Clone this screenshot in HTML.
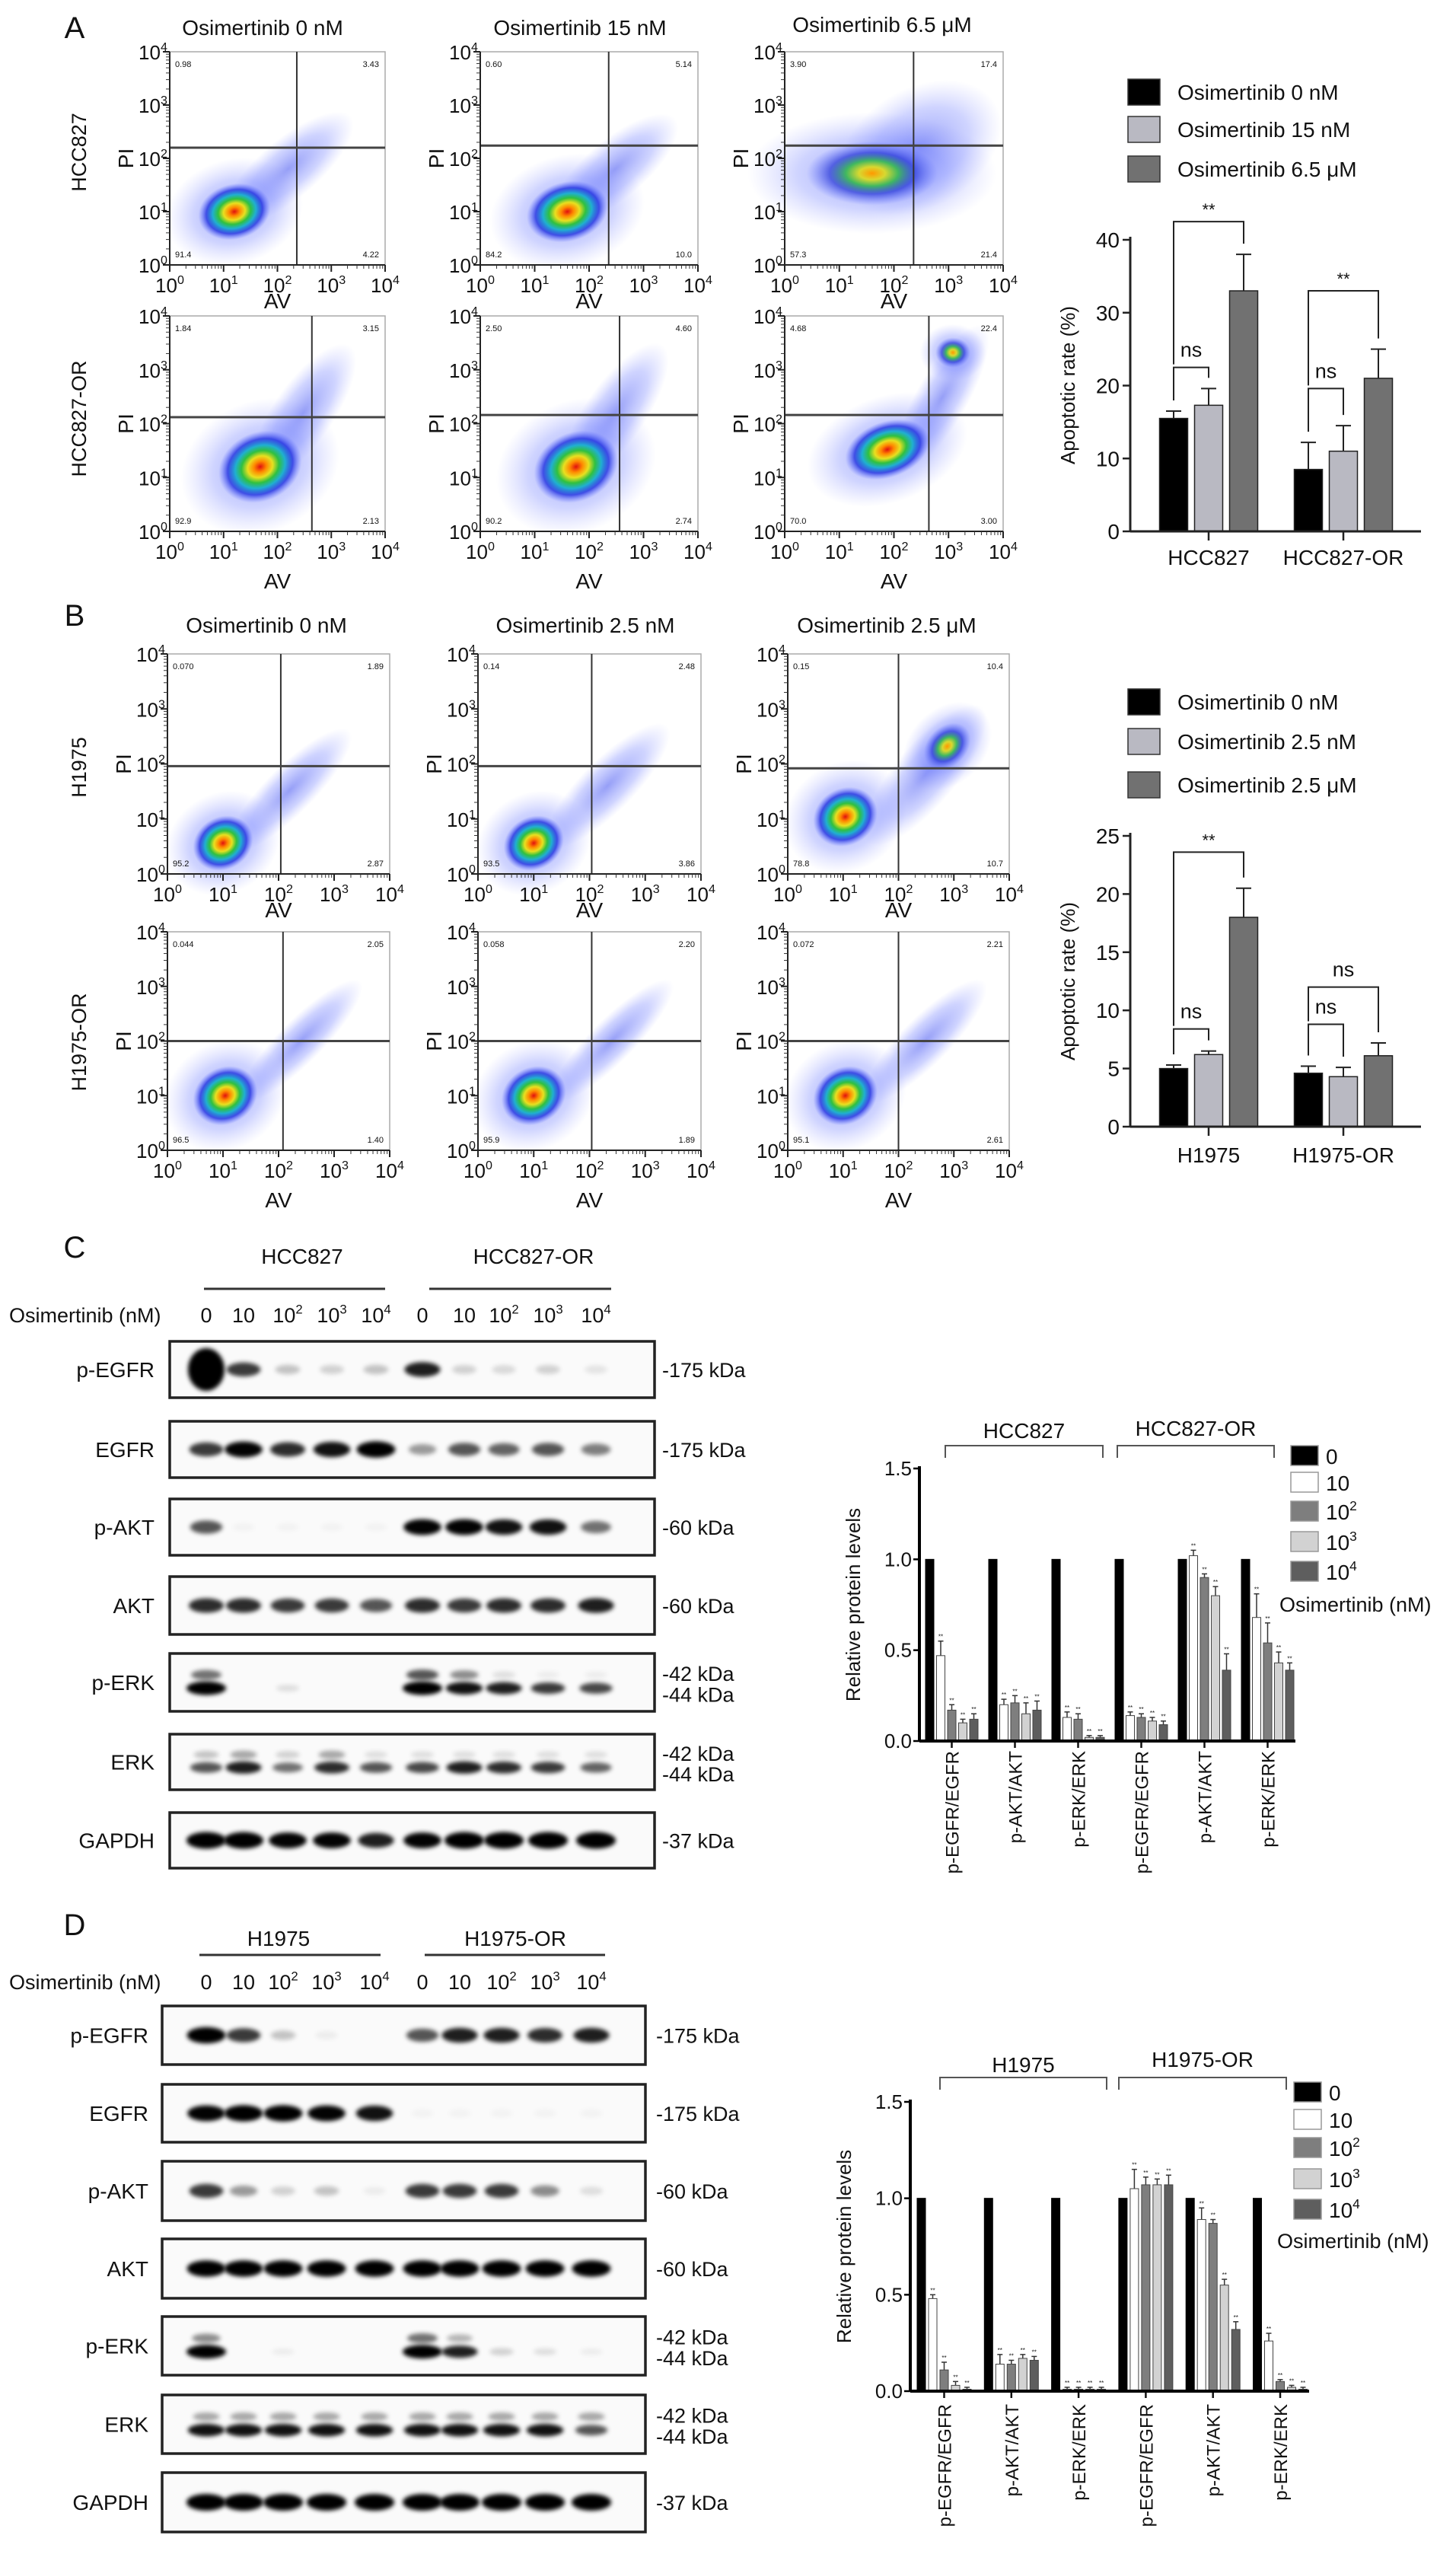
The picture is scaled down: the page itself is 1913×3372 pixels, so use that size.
<!DOCTYPE html>
<html><head><meta charset="utf-8">
<style>
html,body{margin:0;padding:0;background:#fff;}
svg{display:block;}
text{font-family:"Liberation Sans Narrow","Liberation Sans",sans-serif;fill:#111;}
.reg{font-family:"Liberation Sans",sans-serif;}
</style></head>
<body>
<svg id="fig" xmlns="http://www.w3.org/2000/svg" width="1913" height="3372" viewBox="0 0 1913 3372">
<defs>
<radialGradient id="hot"><stop offset="0" stop-color="#e01010"/><stop offset="0.15" stop-color="#ff8800"/><stop offset="0.3" stop-color="#e8e020"/><stop offset="0.45" stop-color="#30c040"/><stop offset="0.6" stop-color="#20b0d0"/><stop offset="0.78" stop-color="#2030e0" stop-opacity="0.8"/><stop offset="1" stop-color="#6070ff" stop-opacity="0"/></radialGradient>
<radialGradient id="warm"><stop offset="0" stop-color="#ff9900"/><stop offset="0.2" stop-color="#d8d830"/><stop offset="0.4" stop-color="#40b860"/><stop offset="0.65" stop-color="#2838d8" stop-opacity="0.7"/><stop offset="1" stop-color="#6070ff" stop-opacity="0"/></radialGradient>
<radialGradient id="halo"><stop offset="0" stop-color="#4050f0" stop-opacity="0.55"/><stop offset="0.6" stop-color="#6070ff" stop-opacity="0.3"/><stop offset="1" stop-color="#8890ff" stop-opacity="0"/></radialGradient>
<filter id="blur" x="-50%" y="-50%" width="200%" height="200%"><feGaussianBlur stdDeviation="3"/></filter>
</defs>
</svg>
<script>
// ---------------- DATA ----------------
const aCats = ["HCC827","HCC827-OR"];
const aMeans = [[15.5,17.3,33.0],[8.5,11.0,21.0]];
const aErrs = [[1.0,2.3,5.0],[3.7,3.5,4.0]];
const aLegend = ["Osimertinib 0 nM","Osimertinib 15 nM","Osimertinib 6.5 μM"];
const aTicks = [0,10,20,30,40];
const aBrackets = [[42.5,22.5],[33.0,19.6]];
const aSig = [["**","ns"],["**","ns"]];
const bCats = ["H1975","H1975-OR"];
const bMeans = [[5.0,6.2,18.0],[4.6,4.3,6.1]];
const bErrs = [[0.3,0.3,2.5],[0.6,0.8,1.1]];
const bLegend = ["Osimertinib 0 nM","Osimertinib 2.5 nM","Osimertinib 2.5 μM"];
const bTicks = [0,5,10,15,20,25];
const bBrackets = [[23.6,8.4],[12.0,8.8]];
const bSig = [["**","ns"],["ns","ns"]];
const wbCats = ["p-EGFR/EGFR","p-AKT/AKT","p-ERK/ERK","p-EGFR/EGFR","p-AKT/AKT","p-ERK/ERK"];
const cVals = [[1,0.47,0.17,0.10,0.12],[1,0.20,0.21,0.15,0.17],[1,0.13,0.12,0.02,0.02],[1,0.14,0.13,0.11,0.09],[1,1.02,0.90,0.80,0.39],[1,0.68,0.54,0.43,0.39]];
const cErr = [[0,0.08,0.03,0.02,0.03],[0,0.03,0.04,0.06,0.05],[0,0.03,0.03,0.01,0.01],[0,0.02,0.02,0.02,0.02],[0,0.03,0.02,0.05,0.09],[0,0.13,0.11,0.06,0.04]];
const dVals = [[1,0.48,0.11,0.03,0.01],[1,0.14,0.14,0.17,0.16],[1,0.01,0.01,0.01,0.01],[1,1.05,1.07,1.07,1.07],[1,0.89,0.87,0.55,0.32],[1,0.26,0.05,0.02,0.01]];
const dErr = [[0,0.02,0.04,0.02,0.01],[0,0.05,0.02,0.02,0.02],[0,0.01,0.01,0.01,0.01],[0,0.1,0.04,0.03,0.05],[0,0.06,0.02,0.03,0.04],[0,0.04,0.01,0.01,0.01]];
const wbTicks = [0,0.5,1.0,1.5];
const doseLabels = [["0",""],["10",""],["10","2"],["10","3"],["10","4"]];

// ---------------- HELPERS ----------------
const svg = document.getElementById('fig');
const NS = 'http://www.w3.org/2000/svg';
function E(tag, at, parent){const e=document.createElementNS(NS,tag);for(const k in at)e.setAttribute(k,at[k]);(parent||svg).appendChild(e);return e;}
function T(x,y,s,size,anchor,extra,parent){const e=E('text',Object.assign({x:x,y:y,'font-size':size,'text-anchor':anchor||'start'},extra||{}),parent);e.textContent=s;return e;}
function sup(x,y,base,ex,size,anchor,parent){const e=E('text',{x:x,y:y,'font-size':size,'text-anchor':anchor||'middle'},parent);const a=E('tspan',{},e);a.textContent=base;if(ex){const b=E('tspan',{dy:-size*0.42,'font-size':size*0.62},e);b.textContent=ex;}return e;}
function G(){return E('g',{});}

// ---------------- PANEL LETTERS ----------------
[["A",98,50],["B",98,822],["C",98,1652],["D",98,2542]].forEach(p=>{
  const t=T(p[1],p[2],p[0],40,'middle',{class:'reg'});
  
  
});

// ---------------- FLOW CYTOMETRY PLOTS ----------------
const flow = [
 [223,68,283,280,0.59,0.45,[[0.30,0.75,0.17,0.13,-15,'hot']],[[0.55,0.55,0.38,0.14,-40]],["0.98","3.43","91.4","4.22"],1],
 [631,68,286,280,0.59,0.44,[[0.40,0.75,0.19,0.14,-15,'hot']],[[0.62,0.55,0.36,0.14,-40]],["0.60","5.14","84.2","10.0"],1],
 [1031,68,287,280,0.59,0.44,[[0.40,0.57,0.30,0.15,0,'warm']],[[0.62,0.45,0.40,0.28,-30]],["3.90","17.4","57.3","21.4"],1],
 [223,415,283,283,0.66,0.47,[[0.42,0.70,0.20,0.16,-25,'hot']],[[0.62,0.45,0.38,0.14,-55]],["1.84","3.15","92.9","2.13"],2],
 [631,415,286,283,0.64,0.46,[[0.44,0.70,0.20,0.16,-25,'hot']],[[0.62,0.45,0.38,0.14,-55]],["2.50","4.60","90.2","2.74"],2],
 [1031,415,287,283,0.66,0.46,[[0.47,0.62,0.20,0.13,-20,'hot'],[0.77,0.17,0.08,0.07,0,'warm']],[[0.72,0.38,0.38,0.12,-60]],["4.68","22.4","70.0","3.00"],2],
 [220,859,292,289,0.51,0.51,[[0.25,0.86,0.14,0.12,-30,'hot']],[[0.55,0.62,0.38,0.11,-45]],["0.070","1.89","95.2","2.87"],1],
 [628,859,293,289,0.51,0.51,[[0.25,0.86,0.14,0.12,-30,'hot']],[[0.58,0.6,0.38,0.12,-45]],["0.14","2.48","93.5","3.86"],1],
 [1035,859,291,289,0.50,0.52,[[0.26,0.74,0.15,0.13,-30,'hot'],[0.72,0.42,0.12,0.09,-45,'warm']],[[0.62,0.55,0.40,0.14,-50]],["0.15","10.4","78.8","10.7"],1],
 [220,1224,292,287,0.52,0.50,[[0.26,0.75,0.15,0.13,-30,'hot']],[[0.6,0.5,0.38,0.1,-45]],["0.044","2.05","96.5","1.40"],2],
 [628,1224,293,287,0.51,0.50,[[0.25,0.75,0.15,0.13,-30,'hot']],[[0.6,0.5,0.38,0.1,-45]],["0.058","2.20","95.9","1.89"],2],
 [1035,1224,291,287,0.50,0.50,[[0.26,0.75,0.15,0.13,-30,'hot']],[[0.62,0.5,0.38,0.11,-45]],["0.072","2.21","95.1","2.61"],2]
];
flow.forEach((f,i)=>{
  const [x,y,w,h,vf,hf,blobs,tails,nums,row]=f;
  const g=G();
  
  
  E('rect',{x:x,y:y,width:w,height:h,fill:'#fff',stroke:'#aaa','stroke-width':1.5},g);
  tails.forEach(t=>{
    const el=E('ellipse',{cx:x+t[0]*w,cy:y+t[1]*h,rx:t[2]*w,ry:t[3]*h,fill:'url(#halo)',transform:`rotate(${t[4]} ${x+t[0]*w} ${y+t[1]*h})`},g);
    
    
  });
  blobs.forEach(b=>{
    const cx=x+b[0]*w,cy=y+b[1]*h;
    const hl=E('ellipse',{cx:cx,cy:cy,rx:b[2]*w*1.9,ry:b[3]*h*1.9,fill:'url(#halo)',transform:`rotate(${b[4]} ${cx} ${cy})`},g);
    
    
    const el=E('ellipse',{cx:cx,cy:cy,rx:b[2]*w,ry:b[3]*h,fill:`url(#${b[5]})`,transform:`rotate(${b[4]} ${cx} ${cy})`},g);
    
    
  });
  E('line',{x1:x+vf*w,y1:y,x2:x+vf*w,y2:y+h,stroke:'#333','stroke-width':2},g);
  E('line',{x1:x,y1:y+hf*h,x2:x+w,y2:y+hf*h,stroke:'#444','stroke-width':3},g);
  E('line',{x1:x,y1:y,x2:x,y2:y+h,stroke:'#222','stroke-width':2},g);
  E('line',{x1:x,y1:y+h,x2:x+w,y2:y+h,stroke:'#222','stroke-width':2},g);
  for(let d=0;d<=4;d++){
    const tx=x+d*w/4, ty=y+h-d*h/4;
    E('line',{x1:tx,y1:y+h,x2:tx,y2:y+h+9,stroke:'#222','stroke-width':2},g);
    E('line',{x1:x-9,y1:ty,x2:x,y2:ty,stroke:'#222','stroke-width':2},g);
    if(d<4){for(let m=2;m<10;m++){const o=Math.log10(m);
      E('line',{x1:tx+o*w/4,y1:y+h,x2:tx+o*w/4,y2:y+h+5,stroke:'#333','stroke-width':1},g);
      E('line',{x1:x-5,y1:ty-o*h/4,x2:x,y2:ty-o*h/4,stroke:'#333','stroke-width':1},g);}}
    sup(tx,y+h+36,'10',String(d),26,'middle',g);
    sup(x-22,ty+10,'10',String(d),26,'middle',g);
  }
  T(x+7,y+20,nums[0],11,'start',{},g);
  T(x+w-8,y+20,nums[1],11,'end',{},g);
  T(x+7,y+h-10,nums[2],11,'start',{},g);
  T(x+w-8,y+h-10,nums[3],11,'end',{},g);
  const av=T(x+w*0.5,y+h+(row==1?57:75),'AV',28,'middle',{},g);
  
  
  const pi=T(0,0,'PI',28,'middle',{transform:`translate(${x-48},${y+h*0.5}) rotate(-90)`},g);
  
  
});
[["Osimertinib 0 nM",345,46],["Osimertinib 15 nM",762,46],["Osimertinib 6.5 μM",1159,42],["Osimertinib 0 nM",350,831],["Osimertinib 2.5 nM",769,831],["Osimertinib 2.5 μM",1165,831]].forEach(t=>{
  const el=T(t[1],t[2],t[0],28,'middle');
  
  
});
[["HCC827",200],["HCC827-OR",550],["H1975",1008],["H1975-OR",1369]].forEach(r=>{
  const el=T(0,0,r[0],27,'middle',{class:'reg',transform:`translate(113,${r[1]}) rotate(-90)`});
  
  
});

// ---------------- APOPTOSIS BAR CHARTS ----------------
const apoColors=['#000','#b9b9c2','#717171'];
function apoChart(cfg){
  const {x0,x1,yb,yt,vmax,ticks,cats,means,errs,legend,legY,brackets,sig,catY,yLabelY,tag}=cfg;
  const g=G();
  
  
  const ys=v=>yb-(v/vmax)*(yb-yt);
  const centers=[1588,1765];
  legend.forEach((l,i)=>{
    const r=E('rect',{x:1482,y:legY[i]-17,width:42,height:34,fill:apoColors[i],stroke:'#333','stroke-width':1.5},g);
    
    
    const t=T(1547,legY[i]+10,l,28,'start',{},g);
    
    
  });
  cats.forEach((c,ci)=>{
    means[ci].forEach((m,bi)=>{
      const cx=centers[ci]+(bi-1)*46;
      const top=ys(m+errs[ci][bi]);
      E('line',{x1:cx,y1:ys(m),x2:cx,y2:top,stroke:'#222','stroke-width':2},g);
      E('line',{x1:cx-10,y1:top,x2:cx+10,y2:top,stroke:'#222','stroke-width':2},g);
      const b=E('rect',{x:cx-18.5,y:ys(m),width:37,height:yb-ys(m),fill:apoColors[bi],stroke:'#222','stroke-width':1.5},g);
      
      
    });
    [[0,2],[0,1]].forEach((pr,k)=>{
      const by=ys(brackets[ci][k]);
      const xa=centers[ci]+(pr[0]-1)*46, xb=centers[ci]+(pr[1]-1)*46;
      const la=k==0?ys(brackets[ci][1])-4:ys(means[ci][pr[0]]+errs[ci][pr[0]])-14;
      const lb=ys(means[ci][pr[1]]+errs[ci][pr[1]])-14;
      const p=E('path',{d:`M${xa},${Math.max(la,by)}V${by}H${xb}V${Math.max(lb,by)}`,fill:'none',stroke:'#222','stroke-width':2},g);
      
      
      T((xa+xb)/2,by-(sig[ci][k]=='**'?8:14),sig[ci][k],sig[ci][k]=='**'?22:27,'middle',{},g);
    });
    E('line',{x1:centers[ci],y1:yb,x2:centers[ci],y2:yb+12,stroke:'#222','stroke-width':2.5},g);
    const ct=T(centers[ci],catY,c,28,'middle',{},g);
    
    
  });
  E('line',{x1:x0,y1:yt-4,x2:x0,y2:yb,stroke:'#222','stroke-width':3},g);
  E('line',{x1:x0,y1:yb,x2:x1,y2:yb,stroke:'#222','stroke-width':3},g);
  ticks.forEach(t=>{
    E('line',{x1:x0-10,y1:ys(t),x2:x0,y2:ys(t),stroke:'#222','stroke-width':2.5},g);
    T(x0-14,ys(t)+10,String(t),28,'end',{},g);
  });
  const yl=T(0,0,'Apoptotic rate (%)',26,'middle',{class:'reg',transform:`translate(1412,${yLabelY}) rotate(-90)`},g);
  
  
}
apoChart({x0:1485,x1:1867,yb:698,yt:315,vmax:40,ticks:aTicks,cats:aCats,means:aMeans,errs:aErrs,legend:aLegend,legY:[121,170,222],brackets:aBrackets,sig:aSig,catY:742,yLabelY:506,tag:'apoptosis-chart-a'});
apoChart({x0:1485,x1:1867,yb:1480,yt:1098,vmax:25,ticks:bTicks,cats:bCats,means:bMeans,errs:bErrs,legend:bLegend,legY:[922,974,1031],brackets:bBrackets,sig:bSig,catY:1527,yLabelY:1289,tag:'apoptosis-chart-b'});

// ---------------- WESTERN BLOTS ----------------
const cBands = {
 'p-EGFR':[[1.0,0.7,0.2,0.15,0.2,0.8,0.15,0.12,0.15,0.08]],
 'EGFR':[[0.7,0.9,0.75,0.85,0.95,0.35,0.6,0.55,0.6,0.45]],
 'p-AKT':[[0.6,0.03,0.03,0.03,0.03,0.9,0.9,0.85,0.85,0.5]],
 'AKT':[[0.75,0.75,0.7,0.7,0.6,0.75,0.7,0.75,0.75,0.8]],
 'p-ERK':[[0.5,0,0,0,0,0.6,0.4,0.1,0.05,0.05],[1,0,0.1,0,0,1,0.85,0.8,0.7,0.65]],
 'ERK':[[0.2,0.3,0.15,0.3,0.1,0.1,0.1,0.1,0.1,0.1],[0.6,0.8,0.5,0.75,0.6,0.65,0.8,0.75,0.7,0.55]],
 'GAPDH':[[1,1,0.9,0.9,0.8,0.9,1,1,1,1]]
};
const dBands = {
 'p-EGFR':[[0.95,0.7,0.2,0.05,0,0.6,0.8,0.8,0.75,0.8]],
 'EGFR':[[0.9,0.95,0.95,0.9,0.85,0.03,0.03,0.03,0.03,0.03]],
 'p-AKT':[[0.7,0.35,0.15,0.2,0.05,0.7,0.7,0.7,0.4,0.1]],
 'AKT':[[0.95,0.95,0.95,0.95,0.95,0.95,0.95,0.95,0.95,0.95]],
 'p-ERK':[[0.4,0,0,0,0,0.5,0.25,0,0,0],[1,0,0.05,0,0,1,0.8,0.15,0.1,0.05]],
 'ERK':[[0.3,0.3,0.3,0.3,0.3,0.3,0.3,0.3,0.3,0.3],[0.85,0.85,0.85,0.85,0.85,0.85,0.85,0.85,0.85,0.6]],
 'GAPDH':[[1,1,1,1,1,1,1,1,1,1]]
};
function blot(cfg){
  const {lanes,bx0,bx1,rows,bands,labX,kdaX,hdrY,hdr,ulY,ul,doseY,tag}=cfg;
  const g=G();
  
  
  hdr.forEach((h,i)=>{
    const t=T(h[1],hdrY,h[0],28,'middle',{},g);
    
    
    E('line',{x1:ul[i][0],y1:ulY,x2:ul[i][1],y2:ulY,stroke:'#333','stroke-width':3},g);
  });
  T(12,doseY,'Osimertinib (nM)',27,'start',{},g);
  lanes.forEach((lx,i)=>{
    const d=doseLabels[i%5];
    const t=sup(lx,doseY,d[0],d[1],27,'middle',g);
    
    
  });
  rows.forEach(r=>{
    const [name,y0,y1,kda]=r;
    const rg=E('g',{},g);
    
    
    E('rect',{x:bx0,y:y0,width:bx1-bx0,height:y1-y0,fill:'#fafafa',stroke:'#222','stroke-width':3.5},rg);
    const levels=bands[name];
    const ycs=levels.length==1?[(y0+y1)/2]:[y0+(y1-y0)*0.37,y0+(y1-y0)*0.6];
    levels.forEach((arr,li)=>{
      arr.forEach((v,i)=>{
        if(v<=0)return;
        const big=name=='p-EGFR'&&i==0&&tag=='blot-c';
        const b=E('ellipse',{cx:lanes[i],cy:ycs[li],rx:big?24:14+12*v,ry:big?28:(levels.length==1?5+6*v:4+5*v),fill:'#000','fill-opacity':Math.min(1,v*1.1),filter:'url(#blur)'},rg);
        
        
      });
    });
    T(labX,(y0+y1)/2+10,name,28,'end',{},rg);
    kda.forEach((k,ki)=>{T(kdaX,(kda.length==1?(y0+y1)/2:ycs[ki]+(ki==0?-2:8))+10,k,27,'start',{},rg);});
  });
}
blot({lanes:[271,320,378,436,494,555,610,662,720,783],bx0:223,bx1:860,
 rows:[['p-EGFR',1762,1836,['-175 kDa']],['EGFR',1867,1941,['-175 kDa']],['p-AKT',1969,2043,['-60 kDa']],['AKT',2071,2147,['-60 kDa']],['p-ERK',2172,2248,['-42 kDa','-44 kDa']],['ERK',2278,2351,['-42 kDa','-44 kDa']],['GAPDH',2381,2454,['-37 kDa']]],
 bands:cBands,labX:203,kdaX:870,hdrY:1660,hdr:[['HCC827',397],['HCC827-OR',701]],ulY:1693,ul:[[268,506],[564,803]],doseY:1737,tag:'blot-c'});
blot({lanes:[271,320,372,429,492,555,604,659,716,777],bx0:213,bx1:848,
 rows:[['p-EGFR',2635,2712,['-175 kDa']],['EGFR',2738,2814,['-175 kDa']],['p-AKT',2839,2917,['-60 kDa']],['AKT',2941,3019,['-60 kDa']],['p-ERK',3043,3120,['-42 kDa','-44 kDa']],['ERK',3146,3223,['-42 kDa','-44 kDa']],['GAPDH',3248,3326,['-37 kDa']]],
 bands:dBands,labX:195,kdaX:862,hdrY:2556,hdr:[['H1975',366],['H1975-OR',677]],ulY:2568,ul:[[262,500],[558,795]],doseY:2613,tag:'blot-d'});

// ---------------- PROTEIN LEVEL CHARTS ----------------
const protColors=['#000','#fff','#7e7e7e','#d2d2d2','#5e5e5e'];
function protChart(cfg){
  const {x0,x1,yb,yt,g0,gstep,bstep,vals,errs,hdr,brY,legX,legY,oslY,oslX,labTop,ylX,tag}=cfg;
  const g=G();
  
  
  const ys=v=>yb-(v/1.5)*(yb-yt);
  vals.forEach((grp,gi)=>{
    const gx=g0+gi*gstep;
    grp.forEach((v,bi)=>{
      const bx=gx+bi*bstep;
      const e=errs[gi][bi];
      if(e>0){E('line',{x1:bx+5.5,y1:ys(v),x2:bx+5.5,y2:ys(v+e),stroke:'#333','stroke-width':1.5},g);
        E('line',{x1:bx+2,y1:ys(v+e),x2:bx+9,y2:ys(v+e),stroke:'#333','stroke-width':1.5},g);
        T(bx+5.5,ys(v+e)-3,'**',8,'middle',{},g);}
      const b=E('rect',{x:bx,y:ys(v),width:11,height:yb-ys(v),fill:protColors[bi],stroke:bi==0?'#000':'#444','stroke-width':1},g);
      
      
    });
    const cx=gx+2*bstep+5.5;
    E('line',{x1:cx,y1:yb,x2:cx,y2:yb+9,stroke:'#111','stroke-width':2.5},g);
    const t=T(0,0,wbCats[gi],24,'end',{class:'reg',transform:`translate(${cx+9},${labTop}) rotate(-90)`},g);
    
    
  });
  hdr.forEach(h=>{
    const p=E('path',{d:`M${h[1]},${brY+16}V${brY}H${h[2]}V${brY+16}`,fill:'none',stroke:'#555','stroke-width':2},g);
    
    
    T((h[1]+h[2])/2,h[3],h[0],28,'middle',{},g);
  });
  E('line',{x1:x0,y1:yt-3,x2:x0,y2:yb,stroke:'#000','stroke-width':4},g);
  E('line',{x1:x0,y1:yb,x2:x1,y2:yb,stroke:'#000','stroke-width':4},g);
  wbTicks.forEach(t=>{
    E('line',{x1:x0-8,y1:ys(t),x2:x0,y2:ys(t),stroke:'#000','stroke-width':2.5},g);
    T(x0-10,ys(t)+9,t.toFixed(1),26,'end',{},g);
  });
  doseLabels.forEach((d,i)=>{
    const r=E('rect',{x:legX,y:legY[i]-13,width:36,height:26,fill:protColors[i],stroke:'#999','stroke-width':1.5},g);
    
    
    const t=sup(legX+46,legY[i]+11,d[0],d[1],28,'start',g);
    
    
  });
  T(oslX,oslY,'Osimertinib (nM)',27,'start',{},g);
  const yl=T(0,0,'Relative protein levels',26,'middle',{class:'reg',transform:`translate(${ylX},${(yb+yt)/2}) rotate(-90)`},g);
  
  
}
protChart({x0:1208,x1:1702,yb:2287,yt:1929,g0:1216,gstep:83,bstep:14.5,vals:cVals,errs:cErr,
 hdr:[['HCC827',1242,1449,1889],['HCC827-OR',1468,1674,1886]],brY:1899,legX:1696,legY:[1912,1947,1985,2025,2064],oslY:2117,oslX:1681,labTop:2300,ylX:1130,tag:'protein-chart-c'});
protChart({x0:1196,x1:1720,yb:3141,yt:2761,g0:1205,gstep:88.3,bstep:15,vals:dVals,errs:dErr,
 hdr:[['H1975',1235,1454,2722],['H1975-OR',1470,1690,2715]],brY:2729,legX:1700,legY:[2748,2784,2821,2862,2902],oslY:2953,oslX:1678,labTop:3158,ylX:1118,tag:'protein-chart-d'});
</script>
</body></html>
